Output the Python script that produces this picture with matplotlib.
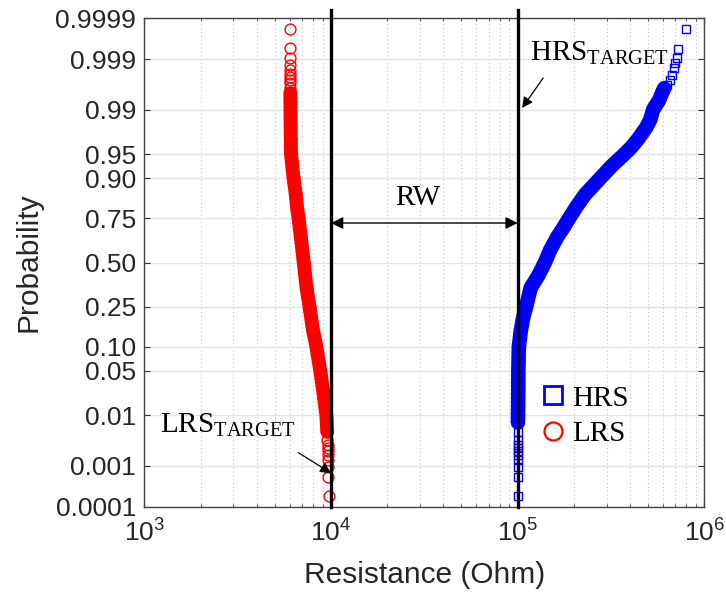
import math
import numpy as np
import matplotlib
matplotlib.use("Agg")
import matplotlib.pyplot as plt
from matplotlib.lines import Line2D
from matplotlib.ticker import FixedLocator, NullLocator, NullFormatter, LogLocator

# ---------------- data ----------------
lrs_prob = [0.99981, 0.99944, 0.99907, 0.9987, 0.99833, 0.99796, 0.9976, 0.9972,
            0.9968, 0.9961, 0.995, 0.99, 0.98, 0.97, 0.95, 0.90, 0.85, 0.80, 0.75, 0.65,
            0.50, 0.35, 0.25, 0.15, 0.115, 0.10, 0.05, 0.025, 0.01, 0.005,
            0.0035, 0.0028, 0.0024, 0.00204, 0.00167, 0.0013, 0.00093,
            0.00056, 0.00019]
lrs_res = [6030, 6030, 6035, 6035, 6040, 6040, 6040, 6045,
           6045, 6050, 6050, 6060, 6070, 6080, 6104, 6296, 6467, 6573, 6695, 6888,
           7139, 7391, 7667, 8009, 8240, 8342, 8752, 9083, 9437, 9540,
           9570, 9580, 9590, 9600, 9610, 9620, 9640,
           9660, 9800]

hrs_prob = [0.00019, 0.00056, 0.00093, 0.0013, 0.00167, 0.00204, 0.0024, 0.0028,
            0.0035, 0.005, 0.0075, 0.01, 0.05, 0.10, 0.15, 0.20, 0.25, 0.35, 0.42, 0.50,
            0.575, 0.65, 0.70, 0.75, 0.80, 0.85, 0.875, 0.90, 0.93, 0.95, 0.96, 0.97, 0.98,
            0.985, 0.99,
            0.99328, 0.99497, 0.99598, 0.99653, 0.99725, 0.99783, 0.99843,
            0.99878, 0.99905, 0.99942, 0.99981]
hrs_res = [100000, 100000, 100050, 100050, 100100, 100100, 100150, 100150,
           100200, 100250, 100350, 100500, 100900, 101500, 104000, 107000, 111000, 117500,
           128800, 140000,
           149400, 162800, 175400, 188900, 205900, 230100, 250900, 277000, 321200, 372400,
           406100, 442600, 488700, 513400, 532800,
           573700, 593200, 610300, 631000, 651600, 671000, 684500,
           699000, 713900, 719300, 798000]

lrs_target = 1e4
hrs_target = 1e5

y_ticks = [0.0001, 0.001, 0.01, 0.05, 0.10, 0.25, 0.50, 0.75, 0.90, 0.95, 0.99, 0.999, 0.9999]
y_ticklabels = ['0.0001', '0.001', '0.01', '0.05', '0.10', '0.25', '0.50', '0.75',
                '0.90', '0.95', '0.99', '0.999', '0.9999']
x_ticks = [1e3, 1e4, 1e5, 1e6]

# ---------------- probit scale ----------------
_a = [-3.969683028665376e+01, 2.209460984245205e+02, -2.759285104469687e+02,
      1.383577518672690e+02, -3.066479806614716e+01, 2.506628277459239e+00]
_b = [-5.447609879822406e+01, 1.615858368580409e+02, -1.556989798598866e+02,
      6.680131188771972e+01, -1.328068155288572e+01]
_c = [-7.784894002430293e-03, -3.223964580411365e-01, -2.400758277161838e+00,
      -2.549732539343734e+00, 4.374664141464968e+00, 2.938163982698783e+00]
_d = [7.784695709041462e-03, 3.224671290700398e-01, 2.445134137142996e+00,
      3.754408661907416e+00]


def _ppf(p):
    p = np.clip(np.asarray(p, dtype=float), 1e-12, 1 - 1e-12)
    q = np.where(p < 0.5, p, 1 - p)
    t = np.sqrt(-2 * np.log(q))
    tail = (((((_c[0]*t+_c[1])*t+_c[2])*t+_c[3])*t+_c[4])*t+_c[5]) / \
           ((((_d[0]*t+_d[1])*t+_d[2])*t+_d[3])*t+1)
    r = q - 0.5
    s = r * r
    cen = (((((_a[0]*s+_a[1])*s+_a[2])*s+_a[3])*s+_a[4])*s+_a[5])*r / \
          (((((_b[0]*s+_b[1])*s+_b[2])*s+_b[3])*s+_b[4])*s+1)
    x = np.where(q < 0.02425, tail, cen)
    return np.where(p < 0.5, x, -x)


_erf = np.vectorize(math.erf, otypes=[float])


def _cdf(x):
    x = np.asarray(x, dtype=float)
    return 0.5 * (1 + _erf(x / math.sqrt(2)))


# ---------------- figure ----------------
plt.rcParams['font.family'] = ['Liberation Sans', 'DejaVu Sans']
fig = plt.figure(figsize=(7.26, 6.0), dpi=100)
ax = fig.add_axes([0.199, 0.155, 0.771, 0.815])
ax.set_xscale('log')
ax.set_yscale('function', functions=(_ppf, _cdf))
ax.set_xlim(1e3, 1e6)
ax.set_ylim(0.0001, 0.9999)

serif = ['Liberation Serif', 'DejaVu Serif']

lp = np.array(lrs_prob); lr = np.array(lrs_res)
hp = np.array(hrs_prob); hr = np.array(hrs_res)

# dense body drawn as a band, every point as marker
mask_l = (lp >= 0.005) & (lp <= 0.995)
mask_h = (hp >= 0.0075) & (hp <= 0.996)
ax.plot(hr[mask_h], hp[mask_h], color='#0000ff', lw=10.5, solid_capstyle='round',
        solid_joinstyle='round', zorder=3)
ax.plot(hr, hp, ls='none', marker='s', mfc='none', mec='#0000ff', ms=6.3, mew=1.0, zorder=3)
ax.plot(lr[mask_l], lp[mask_l], color='#ff0000', lw=10.0, solid_capstyle='round',
        solid_joinstyle='round', zorder=3)
ax.plot(lr, lp, ls='none', marker='o', mfc='none', mec='#ff0000', ms=7.8, mew=1.0, zorder=3)

# target lines
for xv in (lrs_target, hrs_target):
    ax.axvline(xv, ymin=0, ymax=1.016, color='black', lw=2.4, clip_on=False, zorder=4)

# grids
ax.yaxis.set_major_locator(FixedLocator(y_ticks))
ax.yaxis.set_minor_locator(NullLocator())
ax.set_yticklabels(y_ticklabels)
ax.xaxis.set_major_locator(FixedLocator(x_ticks))
ax.xaxis.set_minor_locator(LogLocator(base=10, subs=np.arange(2, 10)))
ax.xaxis.set_minor_formatter(NullFormatter())
ax.grid(which='major', color='#e3e3e3', lw=1.0, ls='-', zorder=0)
ax.grid(which='minor', axis='x', color='#c8c8c8', lw=0.8, ls=(0, (1, 2.5)), zorder=0)
ax.set_axisbelow(True)

ax.tick_params(which='both', direction='in', top=True, right=True, colors='#333333',
               labelcolor='#262626')
ax.tick_params(which='major', length=4.5, width=0.8, labelsize=19, pad=6)
ax.tick_params(which='minor', length=2.5, width=0.6)
ax.tick_params(axis='x', which='major', pad=9)
for sp in ax.spines.values():
    sp.set_color('#444444')
    sp.set_linewidth(1.0)

ax.set_xlabel('Resistance (Ohm)', fontsize=21.5, color='#262626', labelpad=10)
ax.set_ylabel('Probability', fontsize=21.5, color='#262626', labelpad=9)

# RW double arrow
ax.annotate('', xy=(hrs_target, 0.726), xytext=(lrs_target, 0.726),
            arrowprops=dict(arrowstyle='<|-|>', color='black', lw=1.0,
                            mutation_scale=18, shrinkA=0, shrinkB=0), zorder=5)
ax.text(2.9e4, 0.837, 'RW', fontsize=21, family=serif, ha='center', va='center')

# HRS target
ax.text(1.167e5, 0.99897, r'$\mathdefault{HRS}_{\mathdefault{TARGET}}$', fontsize=21,
        family=serif, ha='left', va='baseline')
ax.annotate('', xy=(1.057e5, 0.99062), xytext=(1.37e5, 0.99749),
            arrowprops=dict(arrowstyle='-|>', color='black', lw=0.9,
                            mutation_scale=16, shrinkA=0, shrinkB=0), zorder=5)

# LRS target
ax.text(1211, 0.00503, r'$\mathdefault{LRS}_{\mathdefault{TARGET}}$', fontsize=21,
        family=serif, ha='left', va='baseline')
ax.annotate('', xy=(1.0e4, 0.00068), xytext=(6680, 0.00191),
            arrowprops=dict(arrowstyle='-|>', color='black', lw=0.9,
                            mutation_scale=16, shrinkA=0, shrinkB=0), zorder=5)

# legend
handles = [Line2D([], [], ls='none', marker='s', mfc='none', mec='#0000ff', ms=13, mew=2.0),
           Line2D([], [], ls='none', marker='o', mfc='none', mec='#ff0000', ms=13, mew=1.6)]
ax.legend(handles, ['HRS', 'LRS'], loc='center left', bbox_to_anchor=(0.704, 0.186),
          frameon=False, prop={'family': serif, 'size': 21}, handlelength=1.0,
          handletextpad=0.15, labelspacing=0.3, borderpad=0, borderaxespad=0)

fig.savefig('out.png', dpi=100)
